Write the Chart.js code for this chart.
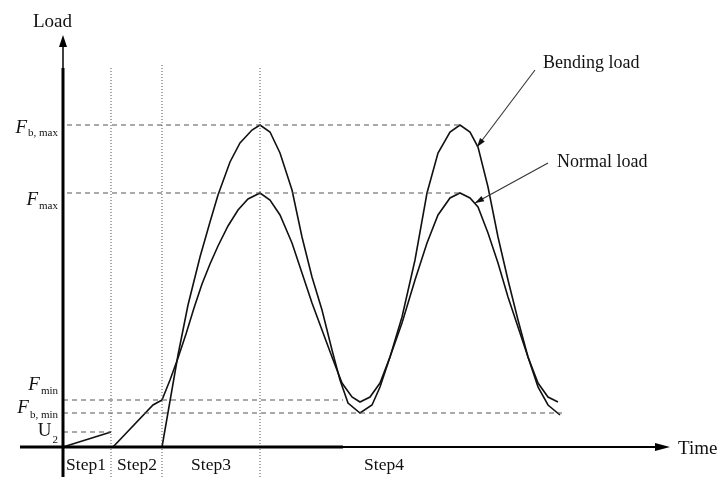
<!DOCTYPE html>
<html lang="en">
<head>
<meta charset="UTF-8">
<title>Load vs time</title>
<script src="https://cdn.jsdelivr.net/npm/chart.js@4.4.1/dist/chart.umd.min.js"></script>
<style>
    body { margin: 0; background: #fff; }
    #wrap { width: 719px; height: 477px; position: relative; }
</style>
</head>
<body>
<div id="wrap"><canvas id="c"></canvas></div>
<script>
// values (t = time, load in arbitrary units)
const step1T = [0, 4.8];
const step1Load = [0, 3.75];
const step2T = [5.0, 9.0, 9.9];
const step2Load = [0, 10.5, 11.75];

const normalT = [9.9, 10.7, 11.5, 12.3, 13.1, 13.9, 14.7, 15.5, 16.5, 17.5, 18.5, 19.7,
    20.7, 21.7, 22.9, 23.9, 24.9, 25.9, 26.9, 27.9, 28.9, 29.7,
    30.7, 31.7, 32.7, 33.9, 35.2, 36.4, 37.5, 38.7, 39.7,
    40.7, 41.5, 42.5, 43.5, 44.5, 45.5, 46.5, 47.5, 48.5, 49.5];
const normalLoad = [11.75, 16.75, 22.25, 28.25, 34.75, 40.75, 45.75, 50.25, 55.25, 59.25, 62, 63.5,
    61.75, 58, 51, 43.5, 36, 29.25, 22.5, 16, 12.5, 11.25,
    12.5, 16, 22.5, 31, 41.75, 51, 58, 62.25, 63.5,
    62.25, 60, 53.5, 46, 37.5, 30, 22.5, 16, 12.5, 11.25];

const bendingT = [9.9, 10.7, 11.5, 12.5, 13.7, 14.7, 15.5, 16.7, 17.7, 18.9, 19.7,
    20.7, 21.7, 22.9, 23.9, 24.9, 25.9, 26.9, 27.7, 28.5, 29.7,
    30.9, 31.7, 32.7, 33.9, 35.2, 36.4, 37.5, 38.7, 39.7,
    40.7, 41.5, 42.5, 43.5, 44.5, 45.5, 46.5, 47.5, 48.5, 49.7];
const bendingLoad = [0, 11.5, 23, 35.5, 47.5, 56.25, 63, 71.25, 76, 79.25, 80.5,
    78.75, 73.5, 64.25, 52.5, 42.5, 34.25, 24.25, 16.75, 11, 8.5,
    10.5, 15, 22.5, 32.5, 46.75, 63.5, 73.5, 78.75, 80.5,
    78.75, 75, 65, 52.5, 41.75, 31.75, 22.5, 15, 10.5, 8];

// reference levels: F_b,max, F_max, F_min, F_b,min, U_2
const refNames = [['F', 'b, max'], ['F', 'max'], ['F', 'min'], ['F', 'b, min'], ['U', '2']];
const refLevels = [80.5, 63.5, 11.75, 8.5, 3.75];
const refStart = [0.4, 0.4, 0, 0, 0];
const refEnd = [39.7, 39.7, 28, 49.9, 4.8];

// step boundaries (dotted) and step captions
const stepBounds = [4.8, 9.9, 19.7];
const stepTops = [94.75, 96, 95];
const stepNames = ['Step1', 'Step2', 'Step3', 'Step4'];
const stepLabelT = [2.3, 7.4, 14.8, 32.1];

const xy = (ts, ls) => ts.map((t, i) => ({ x: t, y: ls[i] }));

const datasets = [];
refLevels.forEach((v, i) => datasets.push({
    data: [{ x: refStart[i], y: v }, { x: refEnd[i], y: v }],
    borderColor: '#555', borderWidth: 1, borderDash: [5, 4]
}));
stepBounds.forEach((t, i) => datasets.push({
    data: [{ x: t, y: -7.5 }, { x: t, y: stepTops[i] }],
    borderColor: '#555', borderWidth: 1, borderDash: [1, 2]
}));
datasets.push({ label: 'Step1', data: xy(step1T, step1Load), borderColor: '#111', borderWidth: 1.6 });
datasets.push({ label: 'Step2', data: xy(step2T, step2Load), borderColor: '#111', borderWidth: 1.6 });
datasets.push({ label: 'Normal load', data: xy(normalT, normalLoad), borderColor: '#111', borderWidth: 1.6 });
datasets.push({ label: 'Bending load', data: xy(bendingT, bendingLoad), borderColor: '#111', borderWidth: 1.6 });

function arrowHead(ctx, x0, y0, x1, y1, len, half) {
    const a = Math.atan2(y1 - y0, x1 - x0);
    ctx.beginPath();
    ctx.moveTo(x1, y1);
    ctx.lineTo(x1 - len * Math.cos(a) + half * Math.sin(a), y1 - len * Math.sin(a) - half * Math.cos(a));
    ctx.lineTo(x1 - len * Math.cos(a) - half * Math.sin(a), y1 - len * Math.sin(a) + half * Math.cos(a));
    ctx.closePath();
    ctx.fill();
}

const sketch = {
    id: 'sketch',
    afterDraw(chart) {
        const ctx = chart.ctx;
        const X = v => chart.scales.x.getPixelForValue(v);
        const Y = v => chart.scales.y.getPixelForValue(v);
        ctx.save();
        ctx.strokeStyle = '#000';
        ctx.fillStyle = '#000';

        // y axis
        ctx.lineWidth = 3;
        ctx.beginPath(); ctx.moveTo(X(0), Y(-7.5)); ctx.lineTo(X(0), Y(94.75)); ctx.stroke();
        ctx.lineWidth = 1.5;
        ctx.beginPath(); ctx.moveTo(X(0), Y(94.75)); ctx.lineTo(X(0), Y(100)); ctx.stroke();
        arrowHead(ctx, X(0), Y(0), X(0), Y(103), 12, 4);

        // x axis
        ctx.lineWidth = 3;
        ctx.beginPath(); ctx.moveTo(X(-4.3), Y(0)); ctx.lineTo(X(28), Y(0)); ctx.stroke();
        ctx.lineWidth = 2;
        ctx.beginPath(); ctx.moveTo(X(28), Y(0)); ctx.lineTo(X(59.2), Y(0)); ctx.stroke();
        arrowHead(ctx, X(0), Y(0), X(60.7), Y(0), 15, 4);

        // pointer arrows
        ctx.strokeStyle = '#333';
        ctx.fillStyle = '#111';
        ctx.lineWidth = 1.1;
        const ptrs = [[47.2, 94.25, 41.4, 75], [48.5, 71, 41.2, 61]];
        ptrs.forEach(p => {
            ctx.beginPath(); ctx.moveTo(X(p[0]), Y(p[1])); ctx.lineTo(X(p[2]), Y(p[3])); ctx.stroke();
            arrowHead(ctx, X(p[0]), Y(p[1]), X(p[2]), Y(p[3]), 9, 3);
        });

        // texts
        ctx.fillStyle = '#111';
        ctx.textBaseline = 'alphabetic';
        ctx.font = '19px "Liberation Serif"';
        ctx.textAlign = 'left';
        ctx.fillText('Load', 33, Y(105));
        ctx.fillText('Time', 678, Y(0) + 7);
        ctx.font = '18px "Liberation Serif"';
        ctx.fillText('Bending load', 543, Y(94.75));
        ctx.fillText('Normal load', 557, Y(70));

        ctx.font = '17.5px "Liberation Serif"';
        ctx.textAlign = 'center';
        stepNames.forEach((s, i) => ctx.fillText(s, X(stepLabelT[i]), Y(0) + 23));

        // level labels with subscripts
        const offs = [[8, 11], [12, 16], [-10, -6], [0, 5], [4, 11]];
        refNames.forEach((n, i) => {
            const base = Y(refLevels[i]);
            ctx.textAlign = 'right';
            ctx.font = '11px "Liberation Serif"';
            const right = 58;
            ctx.fillText(n[1], right, base + offs[i][1]);
            const w = ctx.measureText(n[1]).width;
            ctx.font = (n[0] === 'F' ? 'italic ' : '') + '19px "Liberation Serif"';
            ctx.fillText(n[0], right - w - 1, base + offs[i][0]);
        });
        ctx.restore();
    }
};

new Chart(document.getElementById('c'), {
    type: 'line',
    data: { datasets },
    options: {
        responsive: true,
        maintainAspectRatio: false,
        animation: false,
        events: [],
        layout: { padding: { left: 20, right: 0, top: 0, bottom: 0 } },
        elements: { point: { radius: 0 }, line: { tension: 0, fill: false } },
        datasets: { line: { clip: false } },
        plugins: { legend: { display: false }, tooltip: { enabled: false } },
        scales: {
            x: { type: 'linear', display: false, min: -4.3, max: 65.6 },
            y: { type: 'linear', display: false, min: -7.5, max: 111.75 }
        }
    },
    plugins: [sketch]
});
</script>
</body>
</html>
